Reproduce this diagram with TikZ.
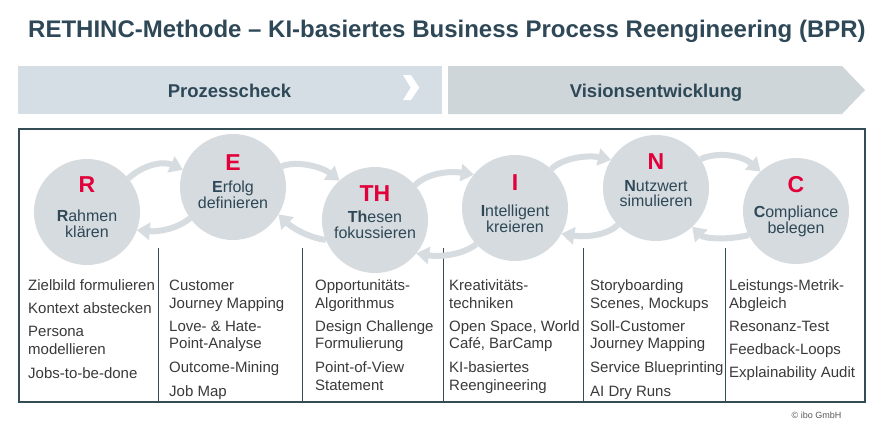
\documentclass[tikz,border=0pt]{standalone}
\usepackage{fontspec}
\setmainfont{Liberation Sans}
\usetikzlibrary{arrows.meta}
\definecolor{slate}{RGB}{46,72,87}
\definecolor{framec}{RGB}{52,76,86}
\definecolor{circfill}{RGB}{213,219,223}
\definecolor{arrfill}{RGB}{214,220,224}
\definecolor{bannerA}{RGB}{213,222,229}
\definecolor{bannerB}{RGB}{207,214,218}
\definecolor{redl}{RGB}{226,0,58}
\definecolor{bodyc}{RGB}{58,58,58}
\definecolor{copyc}{RGB}{90,90,90}
\begin{document}
\begin{tikzpicture}[x=1pt,y=-1pt,
  phase/.style={circle, fill=circfill, minimum size=106pt, inner sep=0pt, outer sep=0pt},
  letter/.style={text=redl, font=\fontsize{23}{23}\selectfont\bfseries, inner sep=0pt},
  cname/.style={text=slate, font=\fontsize{16}{16}\selectfont, inner sep=0pt, anchor=base},
  item/.style={text=bodyc, font=\fontsize{15}{15}\selectfont, inner sep=0pt, anchor=base west},
  bantext/.style={text=slate, font=\fontsize{18.5}{18.5}\selectfont\bfseries, inner sep=0pt, anchor=base},
  flow/.style={draw=arrfill, line width=6pt, -{Triangle[length=13pt,width=17pt]}},
  framel/.style={draw=framec, line width=1.4pt},
  divl/.style={draw=framec, line width=0.9pt}]
\useasboundingbox (0,0) rectangle (895,432);
\fill[white] (0,0) rectangle (895,432);

% title
\node[text=slate, font=\fontsize{24}{24}\selectfont\bfseries, inner sep=0pt, anchor=base] (title) at (447,37.7)
  {RETHINC-Methode – KI-basiertes Business Process Reengineering (BPR)};

% banners
\fill[bannerA] (18,66) rectangle (441.5,114);
\fill[white] (403,75) -- (411,75) -- (419.3,87.7) -- (411,100) -- (403,100) -- (410.7,87.7) -- cycle;
\fill[bannerB] (448,66) -- (842,66) -- (865,90) -- (842,114) -- (448,114) -- cycle;
\node[bantext] (b1) at (229.5,97) {Prozesscheck};
\node[bantext] (b2) at (656,97) {Visionsentwicklung};

% frame and dividers
\draw[framel] (19,129) rectangle (865,402);
\foreach \xx/\nm in {158/d1,302/d2,443/d3,583/d4,725/d5}{
  \coordinate (\nm t) at (\xx,248);
  \coordinate (\nm b) at (\xx,402);
  \draw[divl] (\nm t) -- (\nm b);
}

% phases
\node[phase] (R) at (87,212) {};
\node[phase] (E) at (233,187) {};
\node[phase] (TH) at (375,220) {};
\node[phase] (I) at (515,208) {};
\node[phase] (N) at (656,188) {};
\node[phase] (C) at (796,211) {};

% arrows
\draw[flow] (R.39) .. controls +(15,-14) and +(-20,-9) .. (E.161);
\draw[flow] (E.216) .. controls +(-12,10) and +(23,2) .. (R.340);
\draw[flow] (E.23) .. controls +(15,-6) and +(-18,-14) .. (TH.132);
\draw[flow] (TH.202) .. controls +(-18,-2) and +(12,12) .. (E.329);
\draw[flow] (TH.41) .. controls +(12,-12) and +(-25,-4) .. (I.141);
\draw[flow] (I.223) .. controls +(-12,10) and +(25,4) .. (TH.321);
\draw[flow] (I.47) .. controls +(12,-12) and +(-22,-5) .. (N.148);
\draw[flow] (N.224) .. controls +(-10,10) and +(25,4) .. (I.331);
\draw[flow] (N.33) .. controls +(18,-8) and +(-18,-16) .. (C.132);
\draw[flow] (C.207) .. controls +(-20,5) and +(12,12) .. (N.313);

% circle texts
\node[letter] (Rl) at (87,185) {R};
\node[cname] (Rn1) at (87,221.5) {\textbf{R}ahmen};
\node[cname] (Rn2) at (87,237.5) {klären};
\node[letter] (El) at (233,163) {E};
\node[cname] (En1) at (233,192.5) {\textbf{E}rfolg};
\node[cname] (En2) at (233,208) {definieren};
\node[letter] (THl) at (375,194) {TH};
\node[cname] (THn1) at (375,222.5) {\textbf{Th}esen};
\node[cname] (THn2) at (375,238.5) {fokussieren};
\node[letter] (Il) at (515,183) {I};
\node[cname] (In1) at (515,216.5) {\textbf{I}ntelligent};
\node[cname] (In2) at (515,232.5) {kreieren};
\node[letter] (Nl) at (656,162) {N};
\node[cname] (Nn1) at (656,191.5) {\textbf{N}utzwert};
\node[cname] (Nn2) at (656,206.5) {simulieren};
\node[letter] (Cl) at (796,185) {C};
\node[cname] (Cn1) at (796,217.5) {\textbf{C}ompliance};
\node[cname] (Cn2) at (796,233.5) {belegen};

% column 1
\node[item] (a1) at (28,290) {Zielbild formulieren};
\node[item] (a2) at (28,313) {Kontext abstecken};
\node[item] (a3) at (28,336) {Persona};
\node[item] (a4) at (28,354) {modellieren};
\node[item] (a5) at (28,378) {Jobs-to-be-done};
% column 2
\node[item] (b1i) at (169,290) {Customer};
\node[item] (b2i) at (169,308) {Journey Mapping};
\node[item] (b3i) at (169,331) {Love- \& Hate-};
\node[item] (b4i) at (169,348) {Point-Analyse};
\node[item] (b5i) at (169,372) {Outcome-Mining};
\node[item] (b6i) at (169,396) {Job Map};
% column 3
\node[item] (c1) at (315,290) {Opportunitäts-};
\node[item] (c2) at (315,308) {Algorithmus};
\node[item] (c3) at (315,331) {Design Challenge};
\node[item] (c4) at (315,348) {Formulierung};
\node[item] (c5) at (315,372) {Point-of-View};
\node[item] (c6) at (315,390) {Statement};
% column 4
\node[item] (e1) at (449,290) {Kreativitäts-};
\node[item] (e2) at (449,308) {techniken};
\node[item] (e3) at (449,331) {Open Space, World};
\node[item] (e4) at (449,348) {Café, BarCamp};
\node[item] (e5) at (449,372) {KI-basiertes};
\node[item] (e6) at (449,390) {Reengineering};
% column 5
\node[item] (f1) at (590,290) {Storyboarding};
\node[item] (f2) at (590,308) {Scenes, Mockups};
\node[item] (f3) at (590,331) {Soll-Customer};
\node[item] (f4) at (590,348) {Journey Mapping};
\node[item] (f5) at (590,372) {Service Blueprinting};
\node[item] (f6) at (590,396) {AI Dry Runs};
% column 6
\node[item] (g1) at (729,290) {Leistungs-Metrik-};
\node[item] (g2) at (729,308) {Abgleich};
\node[item] (g3) at (729,331) {Resonanz-Test};
\node[item] (g4) at (729,354) {Feedback-Loops};
\node[item] (g5) at (729,377) {Explainability Audit};

% copyright
\node[text=copyc, font=\fontsize{9}{9}\selectfont, inner sep=0pt] (copy) at (816.5,415) {© ibo GmbH};
\end{tikzpicture}
\end{document}
